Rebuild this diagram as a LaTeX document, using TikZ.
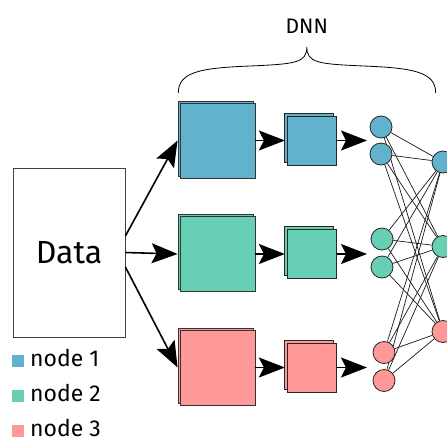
\documentclass[tikz,border=0pt]{standalone}
\usepackage{fontspec}
\setmainfont{Fira Sans}
\usetikzlibrary{arrows.meta,shadows,calc,backgrounds}
\definecolor{cblue}{HTML}{62B2CD}
\definecolor{cgreen}{HTML}{66CFB4}
\definecolor{cred}{HTML}{FF9999}
\begin{document}
\begin{tikzpicture}[x=1pt,y=-1pt,
  bigbox/.style={draw=black!80, line width=0.8pt, minimum size=75pt, inner sep=0pt,
    copy shadow={shadow xshift=-2pt, shadow yshift=2pt}},
  smallbox/.style={draw=black!85, line width=0.8pt, minimum size=49pt, inner sep=0pt,
    copy shadow={shadow xshift=-3pt, shadow yshift=3pt}},
  neuron/.style={circle, draw=black!85, line width=0.8pt, minimum size=22pt, inner sep=0pt},
  bigarrow/.style={line width=1.6pt, -{Stealth[length=26pt,width=20pt,inset=5pt]}},
  link/.style={line width=0.7pt, black!90},
  legsq/.style={minimum size=12pt, inner sep=0pt},
  legtext/.style={anchor=base west, inner sep=0pt, font=\fontsize{23}{26}\selectfont}
]
\useasboundingbox (0,0) rectangle (447,437);

% Data box
\node[draw=black!75, line width=0.8pt, minimum width=112pt, minimum height=169pt, inner sep=0pt,
  font=\fontsize{32}{36}\selectfont] (data) at (69,252.5) {Data};

% big boxes
\node[bigbox, fill=cblue]  (b1) at (217.5,140.5) {};
\node[bigbox, fill=cgreen] (b2) at (217.5,254) {};
\node[bigbox, fill=cred]   (b3) at (217.5,367.5) {};

% small boxes
\node[smallbox, fill=cblue]  (s1) at (311.8,140.5) {};
\node[smallbox, fill=cgreen] (s2) at (311.8,254) {};
\node[smallbox, fill=cred]   (s3) at (311.8,367.5) {};

% left neurons
\node[neuron, fill=cblue]  (l1) at (381,127) {};
\node[neuron, fill=cblue]  (l2) at (381,154) {};
\node[neuron, fill=cgreen] (l3) at (382,239) {};
\node[neuron, fill=cgreen] (l4) at (382,267) {};
\node[neuron, fill=cred]   (l5) at (384,352.5) {};
\node[neuron, fill=cred]   (l6) at (384,380.5) {};

% right neurons
\node[neuron, fill=cblue]  (r1) at (443,162) {};
\node[neuron, fill=cgreen] (r2) at (443,246.5) {};
\node[neuron, fill=cred]   (r3) at (443,331.5) {};

% links
\begin{pgfonlayer}{background}
\foreach \i in {1,...,6}{
  \foreach \j in {1,2,3}{
    \draw[link] (l\i) -- (r\j);
  }
}
\end{pgfonlayer}

% arrows from data
\draw[bigarrow] ([yshift=16.5pt]data.east) -- ([xshift=-2pt]b1.west);
\draw[bigarrow] (data.east) -- ([xshift=-2pt]b2.west);
\draw[bigarrow] ([yshift=-14.5pt]data.east) -- ([xshift=-2pt]b3.west);

% arrows big -> small
\draw[bigarrow] (b1.east) -- ([xshift=-2pt]s1.west);
\draw[bigarrow] (b2.east) -- ([xshift=-2pt]s2.west);
\draw[bigarrow] (b3.east) -- ([xshift=-2pt]s3.west);

% arrows small -> neurons
\coordinate (a1) at (367,140.5);
\coordinate (a2) at (367,254);
\coordinate (a3) at (367,367.5);
\draw[bigarrow] (s1.east) -- (a1);
\draw[bigarrow] (s2.east) -- (a2);
\draw[bigarrow] (s3.east) -- (a3);

% brace
\draw[line width=0.8pt] (178.3,93) .. controls (178.3,72) and (200,68) .. (250,66)
  .. controls (295,64) and (306.8,63) .. (306.8,47)
  .. controls (306.8,63) and (318.6,64) .. (363.6,66)
  .. controls (413.6,68) and (435.7,72) .. (435.7,93);
\node[font=\fontsize{21}{24}\selectfont] (dnn) at (306.8,26) {DNN};

% legend
\node[legsq, fill=cblue]  (k1) at (18,360.5) {};
\node[legsq, fill=cgreen] (k2) at (18,395.5) {};
\node[legsq, fill=cred]   (k3) at (18,430.5) {};
\node[legtext] (t1) at (30,366.5) {node 1};
\node[legtext] (t2) at (30,401.5) {node 2};
\node[legtext] (t3) at (30,436.3) {node 3};
\end{tikzpicture}
\end{document}
